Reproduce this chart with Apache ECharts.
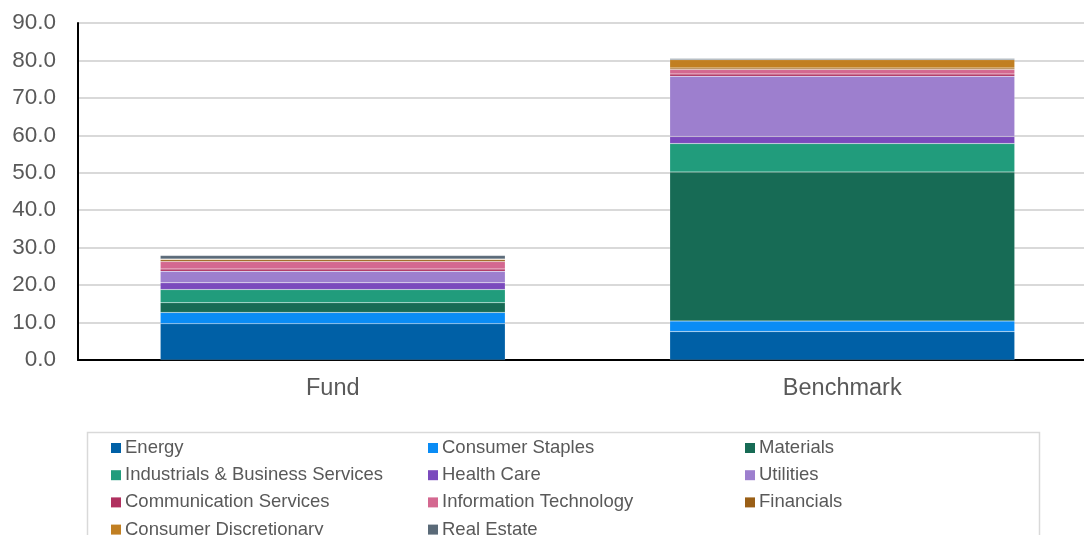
<!DOCTYPE html>
<html><head><meta charset="utf-8">
<script src="https://cdn.jsdelivr.net/npm/echarts@6/dist/echarts.min.js"></script>
<style>html,body{margin:0;padding:0;background:#fff}#c{width:1084px;height:535px}</style>
</head><body><div id="c"></div>
<script>
var categories = ['Fund', 'Benchmark'];
var sectors = ['Energy','Consumer Staples','Materials','Industrials & Business Services','Health Care','Utilities','Communication Services','Information Technology','Financials','Consumer Discretionary','Real Estate'];
var colors = ['#0060A6','#0A8CF5','#176B55','#219C7C','#7B4ABD','#9D7FCE','#B0305F','#D46890','#9A5F16','#C17F22','#5A6A78'];
var energy = [9.7, 7.6];
var consumerStaples = [3.0, 2.8];
var materials = [2.6, 39.8];
var industrials = [3.5, 7.6];
var healthCare = [1.8, 1.9];
var utilities = [3.1, 16.1];
var communication = [0.6, 0.6];
var infoTech = [2.0, 1.2];
var financials = [0.45, 0.4];
var consumerDisc = [0.25, 2.2];
var realEstate = [0.9, 0.35];
var seriesValues = [energy, consumerStaples, materials, industrials, healthCare, utilities, communication, infoTech, financials, consumerDisc, realEstate];

var chart = echarts.init(document.getElementById('c'));
var series = sectors.map(function(name, i){
  return {name:name, type:'bar', stack:'total', barWidth:'67.7%', data:seriesValues[i],
    itemStyle:{color:colors[i], borderColor:'rgba(255,255,255,0.25)', borderWidth:0.5}};
});
var colX = [111, 428, 745];
var legends = sectors.map(function(name, i){
  var col = i % 3, row = Math.floor(i / 3);
  return {orient:'horizontal', left:colX[col], top:437 + row*27.2, itemWidth:10, itemHeight:10,
    icon:'rect', data:[name], selectedMode:false, padding:0,
    itemStyle:{borderWidth:0},
    textStyle:{fontFamily:'Liberation Sans, Arial', fontSize:18.5, color:'#595959', padding:[0,0,0,-1], lineHeight:22}};
});
chart.setOption({
  animation:false,
  color: colors,
  grid:{left:78, width:1019, top:23, bottom:175, outerBoundsMode:'none', containLabel:false},
  xAxis:{type:'category', data:categories,
    axisLine:{lineStyle:{color:'#000', width:2}}, axisTick:{show:false},
    axisLabel:{fontFamily:'Liberation Sans, Arial', fontSize:23.5, color:'#595959', margin:17}},
  yAxis:{type:'value', min:0, max:90, interval:10,
    axisLine:{show:true, lineStyle:{color:'#000', width:2}},
    splitLine:{lineStyle:{color:'#d9d9d9', width:2}},
    axisLabel:{fontFamily:'Liberation Sans, Arial', fontSize:22.5, color:'#595959', margin:22,
      formatter:function(v){return v.toFixed(1);}}},
  legend: legends,
  graphic:[{type:'rect', shape:{x:87.5, y:432.5, width:952, height:120}, style:{fill:'none', stroke:'#d9d9d9', lineWidth:1.5}, silent:true}],
  series: series
});
</script></body></html>
